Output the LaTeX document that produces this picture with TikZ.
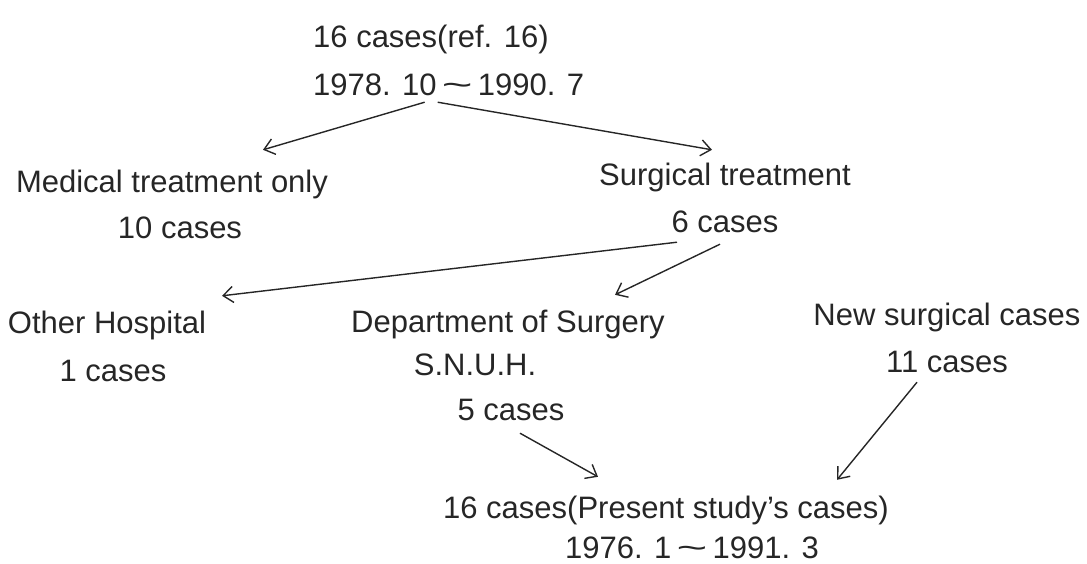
\documentclass[tikz,border=0pt]{standalone}
\usepackage{fontspec}
\usepackage{graphicx}
\setmainfont{Liberation Sans}
\usetikzlibrary{arrows.meta}

\newcommand{\widetil}{\,\scalebox{1.7}[1]{\textasciitilde}\,}

\begin{document}
\begin{tikzpicture}[
    x=1pt, y=-1pt,
    txt/.style={inner sep=0pt, anchor=base, text height=22pt, text depth=7pt, font=\fontsize{31}{36}\selectfont, text=black!85},
    arr/.style={-{Straight Barb[length=10pt,width=16pt]}, line width=1.4pt, black!85},
]
    \useasboundingbox (0,0) rectangle (1087,563);

    % Earlier series
    \node[txt, anchor=base west] (ref) at (313,47) {16 cases(ref. 16)};
    \node[txt, anchor=base west] (refdate) at (313,95) {1978. 10\widetil1990. 7};

    % Treatment split
    \node[txt] (medical) at (172,192) {Medical treatment only};
    \node[txt] (medicalN) at (180,238) {10 cases};
    \node[txt] (surgical) at (725,185) {Surgical treatment};
    \node[txt] (surgicalN) at (725,232) {6 cases};

    % Where the surgical cases went
    \node[txt] (other) at (107,333) {Other Hospital};
    \node[txt] (otherN) at (113,381) {1 cases};
    \node[txt] (dept) at (508,332) {Department of Surgery};
    \node[txt] (snuh) at (475,375) {S.N.U.H.};
    \node[txt] (deptN) at (511,420) {5 cases};
    \node[txt] (newcases) at (947,325) {New surgical cases};
    \node[txt] (newN) at (947,372) {11 cases};

    % Present study
    \node[txt] (present) at (666,518) {16 cases(Present study’s cases)};
    \node[txt] (presentdate) at (692,558) {1976. 1\widetil1991. 3};

    % Arrows
    \draw[arr] ([xshift=-24pt]refdate.south) -- ([xshift=91pt,yshift=20pt]medical.north);
    \draw[arr] ([xshift=-11pt]refdate.south) -- ([xshift=-13pt,yshift=13pt]surgical.north);
    \draw[arr] ([xshift=-48pt,yshift=-3pt]surgicalN.south) -- ([xshift=115pt,yshift=15pt]other.north);
    \draw[arr] ([xshift=-5pt,yshift=-5pt]surgicalN.south) -- ([xshift=107pt,yshift=15pt]dept.north);
    \draw[arr] ([xshift=9pt,yshift=-6pt]deptN.south) -- ([xshift=-68pt,yshift=19pt]present.north);
    \draw[arr] ([xshift=-30pt,yshift=-3pt]newN.south) -- ([xshift=171pt,yshift=16pt]present.north);
\end{tikzpicture}
\end{document}
